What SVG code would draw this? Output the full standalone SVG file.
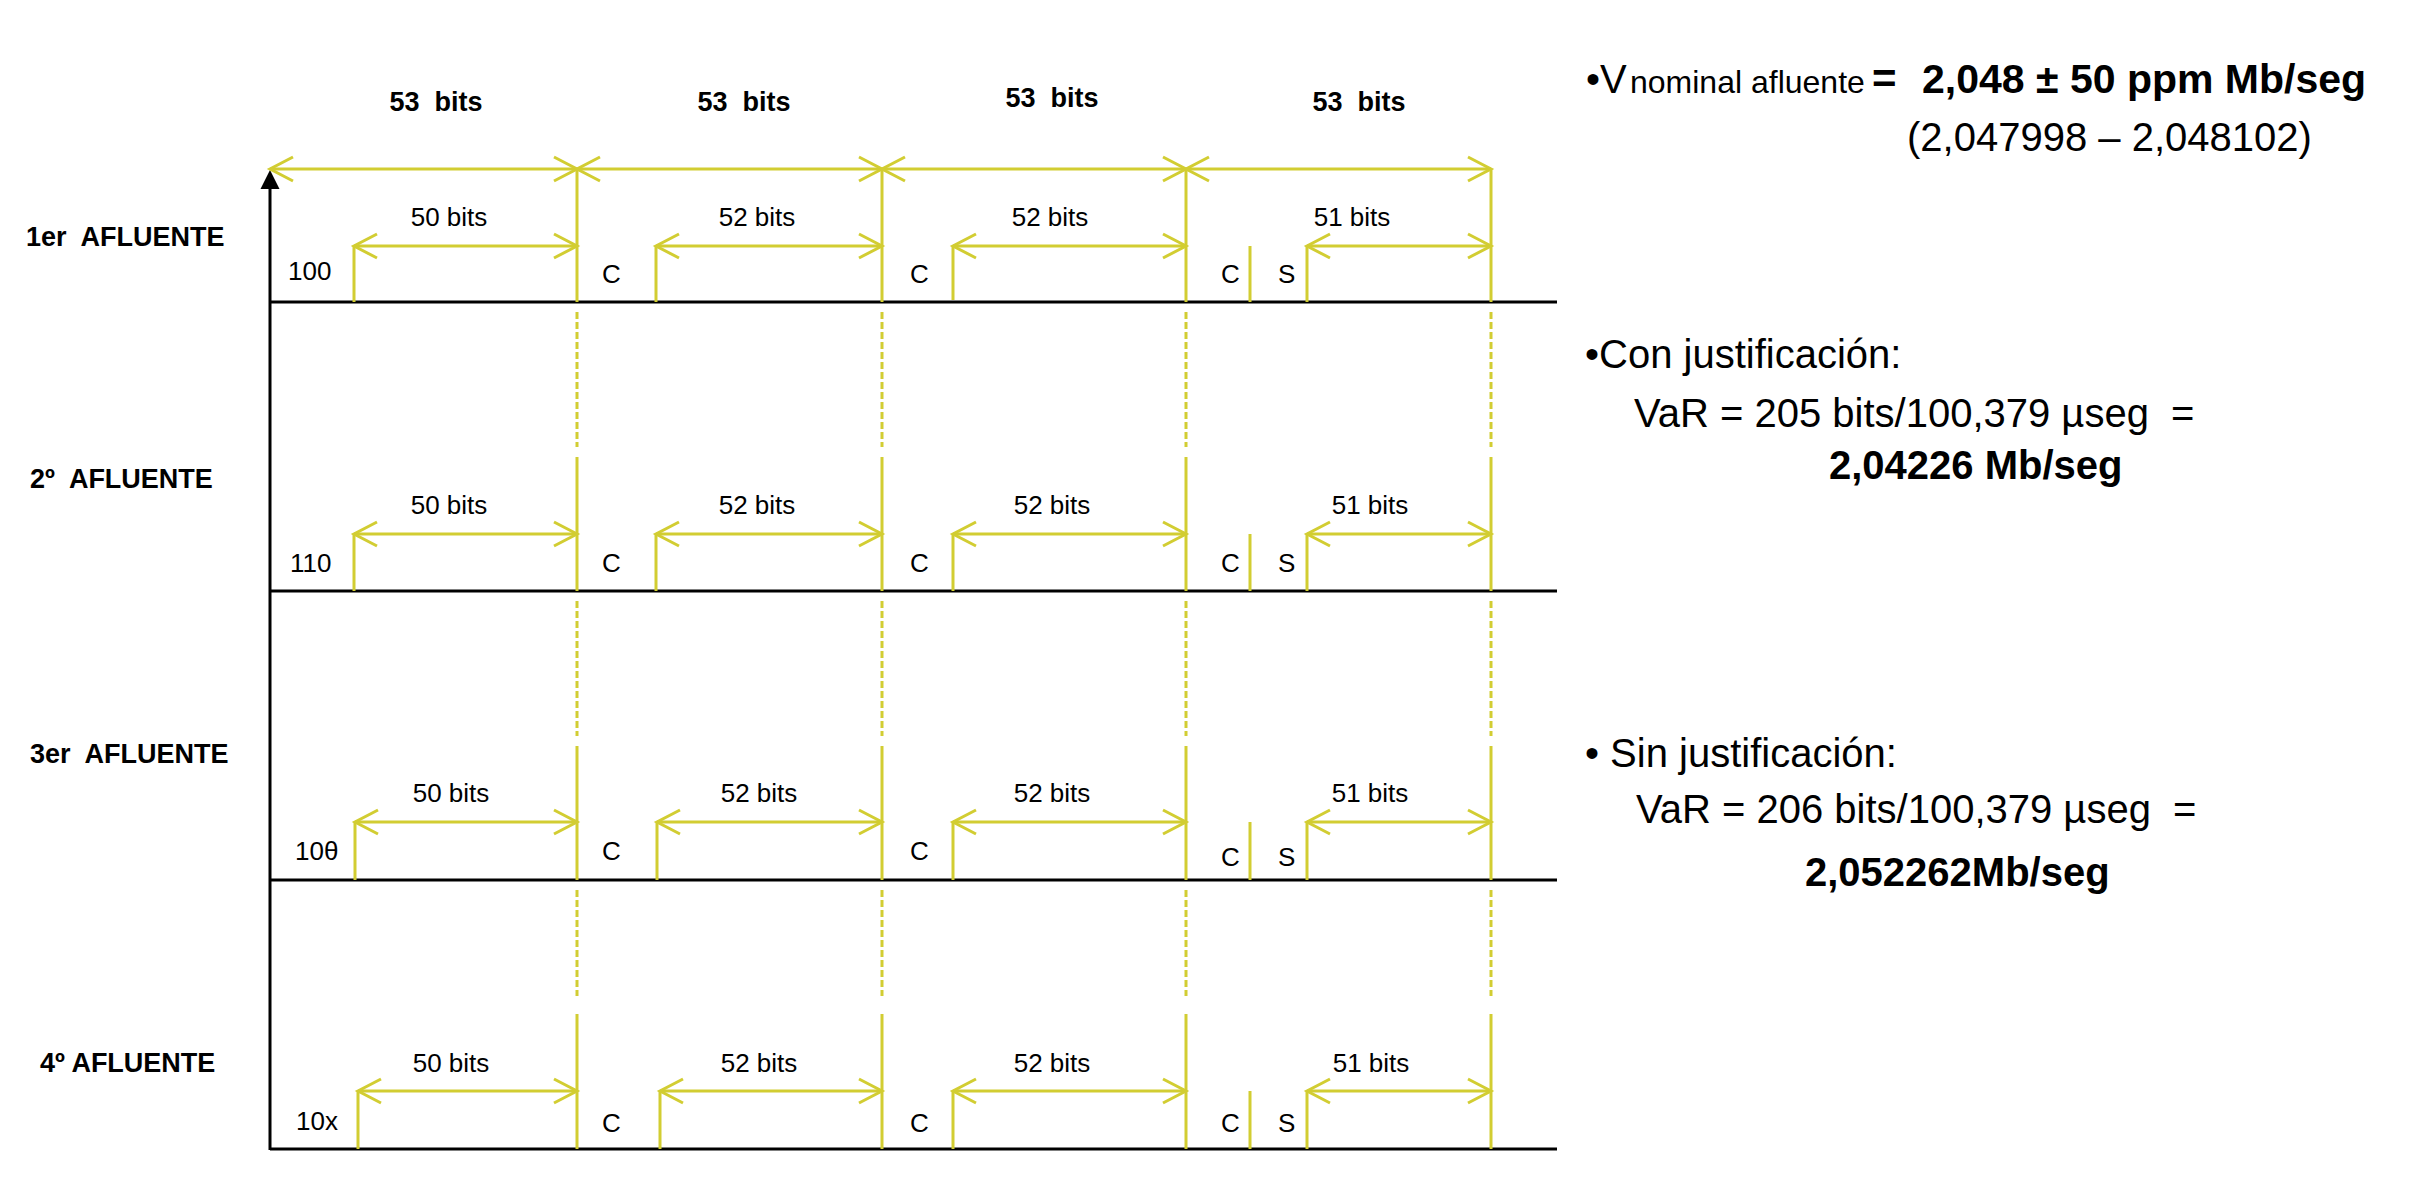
<svg xmlns="http://www.w3.org/2000/svg" width="2436" height="1182" viewBox="0 0 2436 1182">
<style>
.t{font-family:"Liberation Sans",Arial,sans-serif;fill:#000}
.r{font-size:26px}
.b{font-size:27px;font-weight:bold}
.big{font-size:40px}
.bb{font-size:40px;font-weight:bold}
.y{stroke:#d2cd32;stroke-width:3;fill:none}
.ya{stroke:#d2cd32;stroke-width:3;fill:none;marker-start:url(#ch);marker-end:url(#ch)}
.d{stroke:#d2cd32;stroke-width:3;fill:none;stroke-dasharray:7 3}
.k{stroke:#000;stroke-width:3;fill:none}
</style>
<defs>
<marker id="ch" markerUnits="userSpaceOnUse" markerWidth="40" markerHeight="40" viewBox="-30 -20 40 40" refX="0" refY="0" orient="auto-start-reverse" overflow="visible">
<path d="M-23,-12 L0,0 L-23,12" fill="none" stroke="#d2cd32" stroke-width="3"/>
</marker>
</defs>
<rect width="2436" height="1182" fill="#fff"/>

<g id="connectors">
<!-- axis -->
<line class="k" x1="270" y1="186" x2="270" y2="1150"/>
<polygon points="270,170 260.5,189 279.5,189" fill="#000"/>
<!-- baselines -->
<line class="k" x1="270" y1="302" x2="1557" y2="302"/>
<line class="k" x1="270" y1="591" x2="1557" y2="591"/>
<line class="k" x1="270" y1="880" x2="1557" y2="880"/>
<line class="k" x1="270" y1="1149" x2="1557" y2="1149"/>
<!-- top dimension -->
<line class="ya" x1="270" y1="169" x2="577" y2="169"/>
<line class="ya" x1="577" y1="169" x2="882" y2="169"/>
<line class="ya" x1="882" y1="169" x2="1186" y2="169"/>
<line class="ya" x1="1186" y1="169" x2="1491" y2="169"/>
<!-- boundary verticals solid -->
<path class="y" d="M577,169V302M882,169V302M1186,169V302M1491,169V302"/>
<path class="y" d="M577,457V591M882,457V591M1186,457V591M1491,457V591"/>
<path class="y" d="M577,746V880M882,746V880M1186,746V880M1491,746V880"/>
<path class="y" d="M577,1014V1149M882,1014V1149M1186,1014V1149M1491,1014V1149"/>
<!-- dashed -->
<path class="d" d="M577,312V447M882,312V447M1186,312V447M1491,312V447"/>
<path class="d" d="M577,601V736M882,601V736M1186,601V736M1491,601V736"/>
<path class="d" d="M577,890V996M882,890V996M1186,890V996M1491,890V996"/>
<!-- row 1 -->
<path class="y" d="M354,246V302M656,246V302M953,246V300M1250,246V302M1307,246V302"/>
<line class="ya" x1="354" y1="246" x2="577" y2="246"/>
<line class="ya" x1="656" y1="246" x2="882" y2="246"/>
<line class="ya" x1="953" y1="246" x2="1186" y2="246"/>
<line class="ya" x1="1307" y1="246" x2="1491" y2="246"/>
<!-- row 2 -->
<path class="y" d="M354,534V591M656,534V591M953,534V591M1250,534V591M1307,534V591"/>
<line class="ya" x1="354" y1="534" x2="577" y2="534"/>
<line class="ya" x1="656" y1="534" x2="882" y2="534"/>
<line class="ya" x1="953" y1="534" x2="1186" y2="534"/>
<line class="ya" x1="1307" y1="534" x2="1491" y2="534"/>
<!-- row 3 -->
<path class="y" d="M355,822V880M657,822V880M953,822V880M1250,822V880M1307,822V880"/>
<line class="ya" x1="355" y1="822" x2="577" y2="822"/>
<line class="ya" x1="657" y1="822" x2="882" y2="822"/>
<line class="ya" x1="953" y1="822" x2="1186" y2="822"/>
<line class="ya" x1="1307" y1="822" x2="1491" y2="822"/>
<!-- row 4 -->
<path class="y" d="M358,1091V1149M660,1091V1149M953,1091V1149M1250,1091V1149M1307,1091V1149"/>
<line class="ya" x1="358" y1="1091" x2="577" y2="1091"/>
<line class="ya" x1="660" y1="1091" x2="882" y2="1091"/>
<line class="ya" x1="953" y1="1091" x2="1186" y2="1091"/>
<line class="ya" x1="1307" y1="1091" x2="1491" y2="1091"/>
</g>

<g id="header">
<text class="t b" x="436" y="111" text-anchor="middle" xml:space="preserve">53  bits</text>
<text class="t b" x="744" y="111" text-anchor="middle" xml:space="preserve">53  bits</text>
<text class="t b" x="1052" y="107" text-anchor="middle" xml:space="preserve">53  bits</text>
<text class="t b" x="1359" y="111" text-anchor="middle" xml:space="preserve">53  bits</text>
</g>

<g id="row1">
<text class="t b" x="26" y="246" xml:space="preserve">1er  AFLUENTE</text>
<text class="t r" x="449" y="226" text-anchor="middle">50 bits</text>
<text class="t r" x="757" y="226" text-anchor="middle">52 bits</text>
<text class="t r" x="1050" y="226" text-anchor="middle">52 bits</text>
<text class="t r" x="1352" y="226" text-anchor="middle">51 bits</text>
<text class="t r" x="288" y="280">100</text>
<text class="t r" x="602" y="283">C</text>
<text class="t r" x="910" y="283">C</text>
<text class="t r" x="1221" y="283">C</text>
<text class="t r" x="1278" y="283">S</text>
</g>

<g id="row2">
<text class="t b" x="30" y="488" xml:space="preserve">2º  AFLUENTE</text>
<text class="t r" x="449" y="514" text-anchor="middle">50 bits</text>
<text class="t r" x="757" y="514" text-anchor="middle">52 bits</text>
<text class="t r" x="1052" y="514" text-anchor="middle">52 bits</text>
<text class="t r" x="1370" y="514" text-anchor="middle">51 bits</text>
<text class="t r" x="290" y="572">110</text>
<text class="t r" x="602" y="572">C</text>
<text class="t r" x="910" y="572">C</text>
<text class="t r" x="1221" y="572">C</text>
<text class="t r" x="1278" y="572">S</text>
</g>

<g id="row3">
<text class="t b" x="30" y="763" xml:space="preserve">3er  AFLUENTE</text>
<text class="t r" x="451" y="802" text-anchor="middle">50 bits</text>
<text class="t r" x="759" y="802" text-anchor="middle">52 bits</text>
<text class="t r" x="1052" y="802" text-anchor="middle">52 bits</text>
<text class="t r" x="1370" y="802" text-anchor="middle">51 bits</text>
<text class="t r" x="295" y="860">10θ</text>
<text class="t r" x="602" y="860">C</text>
<text class="t r" x="910" y="860">C</text>
<text class="t r" x="1221" y="866">C</text>
<text class="t r" x="1278" y="866">S</text>
</g>

<g id="row4">
<text class="t b" x="40" y="1072">4º AFLUENTE</text>
<text class="t r" x="451" y="1072" text-anchor="middle">50 bits</text>
<text class="t r" x="759" y="1072" text-anchor="middle">52 bits</text>
<text class="t r" x="1052" y="1072" text-anchor="middle">52 bits</text>
<text class="t r" x="1371" y="1072" text-anchor="middle">51 bits</text>
<text class="t r" x="296" y="1130">10x</text>
<text class="t r" x="602" y="1132">C</text>
<text class="t r" x="910" y="1132">C</text>
<text class="t r" x="1221" y="1132">C</text>
<text class="t r" x="1278" y="1132">S</text>
</g>

<g id="notes">
<text class="t big" x="1586" y="93">•V</text>
<text class="t" x="1630" y="93" font-size="32">nominal afluente</text>
<text class="t" x="1872" y="93" font-size="42" font-weight="bold">=</text>
<text class="t" x="1922" y="93" font-size="41" font-weight="bold">2,048 ± 50 ppm Mb/seg</text>
<text class="t big" x="1907" y="151">(2,047998 – 2,048102)</text>
<text class="t big" x="1585" y="368">•Con justificación:</text>
<text class="t big" x="1634" y="427" xml:space="preserve">VaR = 205 bits/100,379 µseg  =</text>
<text class="t bb" x="1829" y="479">2,04226 Mb/seg</text>
<text class="t big" x="1585" y="767">• Sin justificación:</text>
<text class="t big" x="1636" y="823" xml:space="preserve">VaR = 206 bits/100,379 µseg  =</text>
<text class="t bb" x="1805" y="886">2,052262Mb/seg</text>
</g>
</svg>
